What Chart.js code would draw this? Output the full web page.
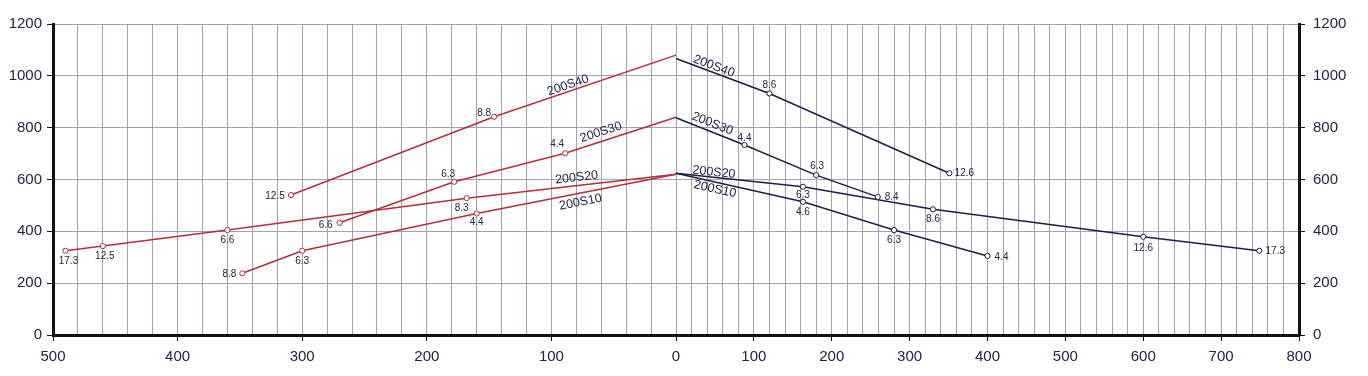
<!DOCTYPE html>
<html>
<head>
<meta charset="utf-8">
<script src="https://cdn.jsdelivr.net/npm/chart.js@4.4.1/dist/chart.umd.min.js"></script>
<style>
html,body{margin:0;padding:0;background:#fff;}
#wrap{width:1368px;height:376px;position:relative;}
</style>
</head>
<body>
<div id="wrap"><canvas id="c"></canvas></div>
<script>
// ---- axis ranges / ticks ----
const leftSpan = 500;      // left half: 500 ... 0
const rightSpan = 800;     // right half: 0 ... 800
const yMin = 0, yMax = 1200, yStep = 200;

// ---- left side (red), distance measured to the left of 0 ----
const s40L_x = [0, 146, 309];
const s40L_y = [1080, 842, 540];
const s40L_lbl = ['', '8.8', '12.5'];

const s30L_x = [0, 89, 178, 270];
const s30L_y = [840, 701, 591, 433];
const s30L_lbl = ['', '4.4', '6.3', '6.6'];

const s20L_x = [0, 168, 360, 460, 490];
const s20L_y = [620, 528, 405, 343, 325];
const s20L_lbl = ['', '8.3', '6.6', '12.5', '17.3'];

const s10L_x = [0, 160, 300, 348];
const s10L_y = [620, 469, 325, 238];
const s10L_lbl = ['', '4.4', '6.3', '8.8'];

// ---- right side (navy) ----
const s40R_x = [0, 120, 351];
const s40R_y = [1067, 932, 624];
const s40R_lbl = ['', '8.6', '12.6'];

const s30R_x = [0, 88, 180, 259];
const s30R_y = [838, 733, 617, 533];
const s30R_lbl = ['', '4.4', '6.3', '8.4'];

const s20R_x = [0, 163, 330, 600, 749];
const s20R_y = [624, 572, 485, 379, 325];
const s20R_lbl = ['', '6.3', '8.6', '12.6', '17.3'];

const s10R_x = [0, 163, 280, 400];
const s10R_y = [624, 514, 405, 305];
const s10R_lbl = ['', '4.6', '6.3', '4.4'];

const seriesNames = ['200S40', '200S30', '200S20', '200S10', '200S40', '200S30', '200S20', '200S10'];

// ---- styling (label placement, colours) ----
const RED = '#b3303b';
const NAVY = '#1d1d4a';
const TEXT = '#22224a';
// name label: position along the line (axis value) and perpendicular offset (px)
const nameStyle = [
  {at: -85, off: -6}, {at: -58, off: -9}, {at: -79, off: -8}, {at: -78, off: 9},
  {at: 46, off: -6}, {at: 43, off: -8}, {at: 48, off: -5}, {at: 52, off: 7}
];
// point label offsets (px) relative to marker
const ptOffsets = [
  [null, [-10, -4], [-16, 1]],
  [null, [-8, -9], [-6, -8], [-14, 2]],
  [null, [-5, 10], [0, 10], [2, 10], [3, 10]],
  [null, [0, 9], [0, 10], [-13, 1]],
  [null, [0, -8], [15, 0]],
  [null, [0, -7], [1, -9], [14, 0]],
  [null, [0, 8], [0, 10], [0, 11], [16, 0]],
  [null, [0, 10], [0, 10], [14, 1]]
];

// ---- split linear scale: left half 500 units, right half 800 units ----
class SplitLinearScale extends Chart.LinearScale {
  getPixelForValue(value) {
    if (value === null || value === undefined || isNaN(value)) return NaN;
    const mid = (this.left + this.right) / 2;
    if (value <= 0) return mid + value / leftSpan * (mid - this.left);
    return mid + value / rightSpan * (this.right - mid);
  }
  getValueForPixel(pixel) {
    const mid = (this.left + this.right) / 2;
    if (pixel <= mid) return (pixel - mid) / (mid - this.left) * leftSpan;
    return (pixel - mid) / (this.right - mid) * rightSpan;
  }
}
SplitLinearScale.id = 'splitLinear';
SplitLinearScale.defaults = Chart.LinearScale.defaults;
Chart.register(SplitLinearScale);

function mk(xs, ys, sign) {
  return xs.map((x, i) => ({x: sign * x, y: ys[i]}));
}
function ds(xs, ys, lbls, sign, color, name) {
  return {
    label: name,
    data: mk(xs, ys, sign),
    pointLabels: lbls,
    borderColor: color,
    borderWidth: 1.5,
    pointBackgroundColor: '#ffffff',
    pointBorderColor: color,
    pointBorderWidth: 1,
    pointRadius: ctx => (ctx.raw && ctx.raw.x === 0) ? 0 : 2.6,
    tension: 0,
    fill: false
  };
}

const datasets = [
  ds(s40L_x, s40L_y, s40L_lbl, -1, RED, seriesNames[0]),
  ds(s30L_x, s30L_y, s30L_lbl, -1, RED, seriesNames[1]),
  ds(s20L_x, s20L_y, s20L_lbl, -1, RED, seriesNames[2]),
  ds(s10L_x, s10L_y, s10L_lbl, -1, RED, seriesNames[3]),
  ds(s40R_x, s40R_y, s40R_lbl, 1, NAVY, seriesNames[4]),
  ds(s30R_x, s30R_y, s30R_lbl, 1, NAVY, seriesNames[5]),
  ds(s20R_x, s20R_y, s20R_lbl, 1, NAVY, seriesNames[6]),
  ds(s10R_x, s10R_y, s10R_lbl, 1, NAVY, seriesNames[7])
];

const labelPlugin = {
  id: 'labelPlugin',
  afterDatasetsDraw(chart) {
    const ctx = chart.ctx;
    const xs = chart.scales.x, ys = chart.scales.y;
    ctx.save();
    chart.data.datasets.forEach((d, i) => {
      const meta = chart.getDatasetMeta(i);
      // point labels
      ctx.font = '10px "Liberation Sans", Arial, sans-serif';
      ctx.fillStyle = TEXT;
      ctx.textAlign = 'center';
      ctx.textBaseline = 'middle';
      meta.data.forEach((pt, j) => {
        const t = d.pointLabels[j];
        if (!t) return;
        const o = ptOffsets[i][j] || [0, 0];
        ctx.fillText(t, pt.x + o[0], pt.y + o[1]);
      });
      // series name along the line
      const st = nameStyle[i];
      const pts = d.data.slice().sort((a, b) => a.x - b.x);
      for (let k = 0; k < pts.length - 1; k++) {
        const a = pts[k], b = pts[k + 1];
        if (st.at >= a.x && st.at <= b.x) {
          const f = (st.at - a.x) / (b.x - a.x);
          const yv = a.y + f * (b.y - a.y);
          const px = xs.getPixelForValue(st.at), py = ys.getPixelForValue(yv);
          const ang = Math.atan2(ys.getPixelForValue(b.y) - ys.getPixelForValue(a.y),
                                 xs.getPixelForValue(b.x) - xs.getPixelForValue(a.x));
          ctx.save();
          ctx.translate(px, py);
          ctx.rotate(ang);
          ctx.font = '12.5px "Liberation Sans", Arial, sans-serif';
          ctx.fillStyle = TEXT;
          ctx.textAlign = 'center';
          ctx.textBaseline = 'middle';
          ctx.fillText(d.label, 0, st.off);
          ctx.restore();
          break;
        }
      }
    });
    ctx.restore();
  }
};

const tickFont = {family: '"Liberation Sans", Arial, sans-serif', size: 15};

new Chart(document.getElementById('c'), {
  type: 'line',
  data: {datasets},
  plugins: [labelPlugin],
  options: {
    responsive: true,
    maintainAspectRatio: false,
    animation: false,
    layout: {padding: {top: 24, left: 0, right: 0, bottom: 0}},
    plugins: {legend: {display: false}, tooltip: {enabled: false}},
    scales: {
      x: {
        type: 'splitLinear',
        min: -leftSpan,
        max: rightSpan,
        ticks: {
          stepSize: 20,
          maxTicksLimit: 200,
          autoSkip: false,
          maxRotation: 0,
          padding: 7,
          color: TEXT,
          font: tickFont,
          callback: v => (Math.round(v) % 100 === 0) ? String(Math.abs(Math.round(v))) : ''
        },
        grid: {
          color: '#a2a2b2',
          lineWidth: 1,
          tickLength: 6,
          tickColor: c => (c.tick && Math.round(c.tick.value) % 100 === 0) ? '#111' : 'rgba(0,0,0,0)'
        },
        border: {display: true, color: '#111', width: 3},
        afterFit: s => { s.height = 41; }
      },
      y: {
        type: 'linear',
        position: 'left',
        min: yMin, max: yMax,
        ticks: {stepSize: yStep, padding: 5, color: TEXT, font: tickFont, callback: v => String(v)},
        grid: {color: '#a2a2b2', lineWidth: 1, tickLength: 6, tickColor: '#111'},
        border: {display: true, color: '#111', width: 3},
        afterFit: s => { s.width = 53; }
      },
      y2: {
        type: 'linear',
        position: 'right',
        min: yMin, max: yMax,
        ticks: {stepSize: yStep, padding: 8, color: TEXT, font: tickFont, callback: v => String(v)},
        grid: {drawOnChartArea: false, tickLength: 6, tickColor: '#111'},
        border: {display: true, color: '#111', width: 3},
        afterFit: s => { s.width = 69; }
      }
    }
  }
});
</script>
</body>
</html>
